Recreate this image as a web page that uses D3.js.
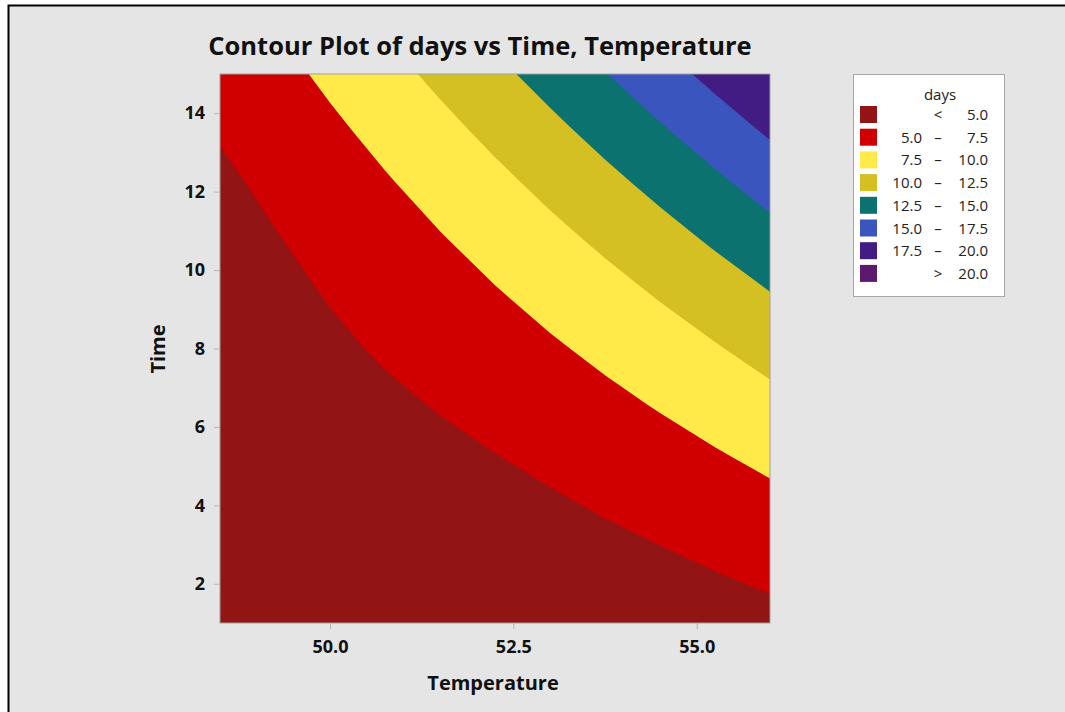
<!DOCTYPE html>
<html>
<head>
<meta charset="utf-8">
<script src="https://cdn.jsdelivr.net/npm/d3@7"></script>
<style>
  html, body { margin: 0; padding: 0; background: #ffffff; }
  svg { display: block; font-family: "Open Sans", "Noto Sans", sans-serif; }
</style>
</head>
<body>
<div id="chart"></div>
<script>
// grid of the fitted surface
var temps = [48.5, 49.25, 50, 50.75, 51.5, 52.25, 53, 53.75, 54.5, 55.25, 56];
var times = [1, 2.4, 3.8, 5.2, 6.6, 8, 9.4, 10.8, 12.2, 13.6, 15];
// one row per time, one column per temperature
var days = [
  [4.68, 4.35, 4.09, 3.90, 3.78, 3.72, 3.74, 3.82, 3.97, 4.19, 4.47],
  [4.29, 4.11, 3.99, 3.94, 3.90, 3.95, 4.09, 4.32, 4.63, 5.05, 5.47],
  [4.01, 3.97, 4.00, 4.05, 4.17, 4.36, 4.65, 5.07, 5.53, 6.08, 6.69],
  [3.83, 3.94, 4.11, 4.31, 4.57, 4.93, 5.39, 5.95, 6.59, 7.25, 7.97],
  [3.77, 4.02, 4.34, 4.68, 5.12, 5.65, 6.30, 6.96, 7.69, 8.48, 9.35],
  [3.81, 4.20, 4.67, 5.20, 5.80, 6.47, 7.21, 8.01, 8.89, 9.83, 10.84],
  [3.96, 4.50, 5.11, 5.79, 6.53, 7.35, 8.23, 9.18, 10.20, 11.29, 12.44],
  [4.22, 4.90, 5.66, 6.48, 7.37, 8.33, 9.36, 10.45, 11.62, 12.85, 14.15],
  [4.62, 5.42, 6.32, 7.28, 8.32, 9.42, 10.59, 11.84, 13.15, 14.52, 15.97],
  [5.18, 6.04, 7.08, 8.19, 9.37, 10.62, 11.94, 13.33, 14.78, 16.30, 17.89],
  [5.72, 6.77, 7.96, 9.21, 10.54, 11.93, 13.40, 14.93, 16.53, 18.19, 19.93]
];
var levels = [5, 7.5, 10, 12.5, 15, 17.5, 20];
var bandColors = ["#921414", "#d10000", "#ffea4a", "#d5c023", "#0b726f", "#3b55bf", "#421c83", "#5b1a6b"];
var bandLabels = [["", "<", "5.0"], ["5.0", "\u2013", "7.5"], ["7.5", "\u2013", "10.0"], ["10.0", "\u2013", "12.5"],
  ["12.5", "\u2013", "15.0"], ["15.0", "\u2013", "17.5"], ["17.5", "\u2013", "20.0"], ["", ">", "20.0"]];
var xTicks = [50, 52.5, 55];
var yTicks = [2, 4, 6, 8, 10, 12, 14];

var W = 1065, H = 712;
var plot = {left: 220, right: 770, top: 74, bottom: 623};

var svg = d3.select("#chart").append("svg")
  .attr("width", W).attr("height", H);

// frame of the screenshot
svg.append("rect").attr("x", 0).attr("y", 0).attr("width", W).attr("height", H).attr("fill", "#fff");
svg.append("rect").attr("x", 8.5).attr("y", 5.5).attr("width", W + 10).attr("height", H + 10)
  .attr("fill", "#e5e5e5").attr("stroke", "#000").attr("stroke-width", 2);

var x = d3.scaleLinear().domain([48.5, 56]).range([plot.left, plot.right]);
var y = d3.scaleLinear().domain([1, 15]).range([plot.bottom, plot.top]);

svg.append("defs").append("clipPath").attr("id", "clip")
  .append("rect").attr("x", plot.left).attr("y", plot.top)
  .attr("width", plot.right - plot.left).attr("height", plot.bottom - plot.top);

var nx = temps.length, ny = times.length;
var dT = temps[1] - temps[0], dt = times[1] - times[0];
var flat = [].concat.apply([], days);

// grid coords -> data -> pixels
var proj = d3.geoTransform({
  point: function(gx, gy) {
    this.stream.point(x(temps[0] + (gx - 0.5) * dT), y(times[0] + (gy - 0.5) * dt));
  }
});
var path = d3.geoPath(proj);

var contours = d3.contours().size([nx, ny]).thresholds(levels)(flat);

var g = svg.append("g").attr("clip-path", "url(#clip)");
g.append("rect").attr("x", plot.left).attr("y", plot.top)
  .attr("width", plot.right - plot.left).attr("height", plot.bottom - plot.top)
  .attr("fill", bandColors[0]);
g.selectAll("path").data(contours).enter().append("path")
  .attr("d", path)
  .attr("fill", function(d, i) { return bandColors[i + 1]; });

svg.append("rect").attr("x", plot.left).attr("y", plot.top)
  .attr("width", plot.right - plot.left).attr("height", plot.bottom - plot.top)
  .attr("fill", "none").attr("stroke", "#a0a0a0").attr("stroke-width", 1);

// axes
var xAxis = svg.append("g").attr("transform", "translate(0," + plot.bottom + ")")
  .call(d3.axisBottom(x).tickValues(xTicks).tickFormat(d3.format(".1f")).tickSize(6).tickSizeOuter(0));
var yAxis = svg.append("g").attr("transform", "translate(" + plot.left + ",0)")
  .call(d3.axisLeft(y).tickValues(yTicks).tickSize(6).tickSizeOuter(0));
[xAxis, yAxis].forEach(function(a) {
  a.select(".domain").remove();
  a.selectAll(".tick line").attr("stroke", "#b4b4b4");
  a.selectAll(".tick text").attr("fill", "#111").attr("font-size", 18).attr("font-weight", 700)
    .attr("font-family", "Open Sans, sans-serif");
});
xAxis.selectAll(".tick text").attr("dy", "1.15em");
yAxis.selectAll(".tick text").attr("x", -15);

svg.append("text").attr("x", 480).attr("y", 55).attr("text-anchor", "middle")
  .attr("font-size", 25.5).attr("font-weight", 700).attr("fill", "#111")
  .text("Contour Plot of days vs Time, Temperature");
svg.append("text").attr("x", 493).attr("y", 690).attr("text-anchor", "middle")
  .attr("font-size", 20).attr("font-weight", 700).attr("fill", "#111")
  .text("Temperature");
svg.append("text").attr("transform", "translate(165,349) rotate(-90)").attr("text-anchor", "middle")
  .attr("font-size", 20).attr("font-weight", 700).attr("fill", "#111")
  .text("Time");

// legend
var lg = svg.append("g");
lg.append("rect").attr("x", 853.5).attr("y", 74.5).attr("width", 151).attr("height", 222)
  .attr("fill", "#fff").attr("stroke", "#a8a8a8");
lg.append("text").attr("x", 940).attr("y", 100).attr("text-anchor", "middle")
  .attr("font-size", 15).attr("fill", "#222").text("days");
var rows = lg.selectAll("g.row").data(bandLabels).enter().append("g")
  .attr("transform", function(d, i) { return "translate(0," + (106 + i * 22.7) + ")"; });
rows.append("rect").attr("x", 860).attr("y", 0).attr("width", 17).attr("height", 17)
  .attr("fill", function(d, i) { return bandColors[i]; });
rows.append("text").attr("x", 922).attr("y", 14).attr("text-anchor", "end")
  .attr("font-size", 15).attr("fill", "#222").text(function(d) { return d[0]; });
rows.append("text").attr("x", 938).attr("y", 14).attr("text-anchor", "middle")
  .attr("font-size", 15).attr("fill", "#222").text(function(d) { return d[1]; });
rows.append("text").attr("x", 988).attr("y", 14).attr("text-anchor", "end")
  .attr("font-size", 15).attr("fill", "#222").text(function(d) { return d[2]; });
</script>
</body>
</html>
